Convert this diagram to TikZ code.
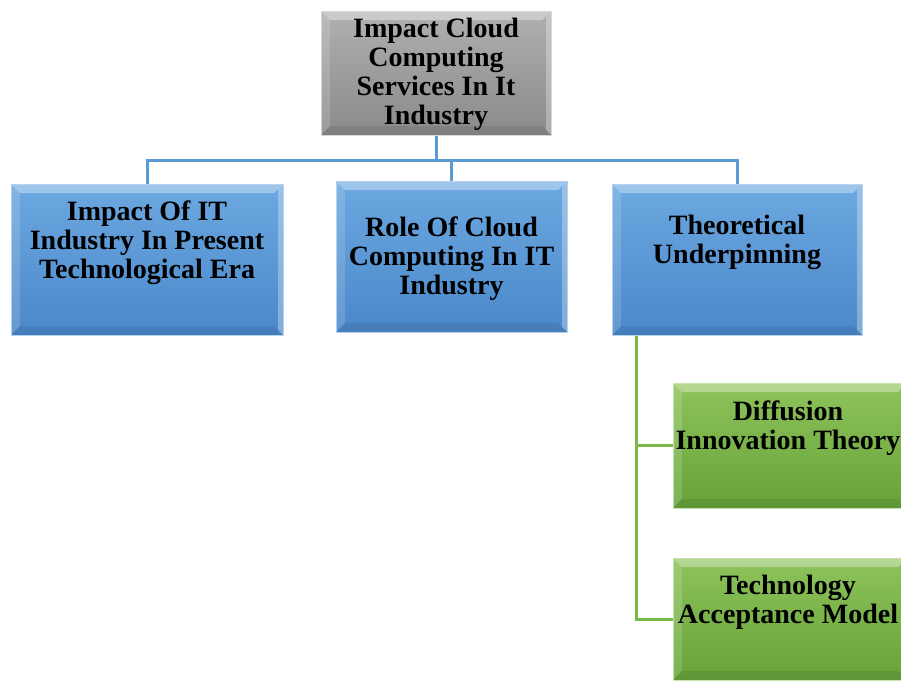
\documentclass[tikz,border=0pt]{standalone}
\usepackage{fontspec}
\setmainfont{Liberation Serif}
\usepackage{tikz}
\usetikzlibrary{calc,positioning}

\definecolor{bluetop}{HTML}{6CA8E0}
\definecolor{bluebot}{HTML}{4A88CA}
\definecolor{blueline}{HTML}{5B9BD5}
\definecolor{graytop}{HTML}{B0B0B0}
\definecolor{graybot}{HTML}{8A8A8A}
\definecolor{greentop}{HTML}{8DC35A}
\definecolor{greenbot}{HTML}{66A33A}
\definecolor{greenline}{HTML}{7AB648}

\begin{document}
\begin{tikzpicture}[x=1pt,y=-1pt]
\tikzstyle{box}=[rectangle, inner sep=0pt, line width=1pt,
                 path picture={
                   \coordinate (nw) at (path picture bounding box.north west);
                   \coordinate (ne) at (path picture bounding box.north east);
                   \coordinate (sw) at (path picture bounding box.south west);
                   \coordinate (se) at (path picture bounding box.south east);
                   \fill[white,opacity=0.35] (nw) -- (ne) -- ($(ne)+(-9,9)$) -- ($(nw)+(9,9)$) -- cycle;
                   \fill[white,opacity=0.15] (nw) -- ($(nw)+(9,9)$) -- ($(sw)+(9,-9)$) -- (sw) -- cycle;
                   \fill[white,opacity=0.3] (ne) -- (se) -- ($(se)+(-5,-5)$) -- ($(ne)+(-5,5)$) -- cycle;
                   \fill[black,opacity=0.08] (sw) -- (se) -- ($(se)+(-9,-9)$) -- ($(sw)+(9,-9)$) -- cycle;
                 }]
\tikzstyle{graybox}=[box, top color=graytop, bottom color=graybot,
                     draw=graytop!50!white]
\tikzstyle{bluebox}=[box, top color=bluetop, bottom color=bluebot,
                     draw=bluetop!50!white]
\tikzstyle{greenbox}=[box, top color=greentop, bottom color=greenbot,
                      draw=greentop!50!white]
\tikzstyle{boxtext}=[align=center, inner sep=0pt,
                     font=\bfseries\fontsize{28}{29}\selectfont]
\useasboundingbox (0,0) rectangle (901,680);
% boxes
\node[graybox, minimum width=230pt, minimum height=124pt] (main) at (436,73){};
\node[bluebox, minimum width=272pt, minimum height=151pt] (impact) at (147,259.5){};
\node[bluebox, minimum width=231pt, minimum height=151pt] (role) at (451.5,256.5){};
\node[bluebox, minimum width=250pt, minimum height=151pt] (theory) at (737,259.5){};
\node[greenbox, minimum width=234pt, minimum height=125pt] (diffusion) at (790,445.5){};
\node[greenbox, minimum width=234pt, minimum height=122pt] (tam) at (790,619){};
% texts
\node[boxtext] (main-t) at (436,74){Impact Cloud\\Computing\\Services In It\\Industry};
\node[boxtext] (impact-t) at (147,242.5){Impact Of IT\\Industry In Present\\Technological Era};
\node[boxtext] (role-t) at (451.5,258.5){Role Of Cloud\\Computing In IT\\Industry};
\node[boxtext] (theory-t) at (737,242){Theoretical\\Underpinning};
\node[boxtext] (diffusion-t) at (788,428){Diffusion\\Innovation Theory};
\node[boxtext] (tam-t) at (788,602){Technology\\Acceptance Model};
% connectors
\foreach \c in {impact,role,theory}{
	\draw[blueline, line width=3pt] (main.south) -- ++(0,25) -| (\c.north);
	}
\foreach \c in {diffusion,tam}{
	\draw[greenline, line width=3pt] ([xshift=-101pt]theory.south) |- (\c.west);
	}
\end{tikzpicture}
\end{document}
